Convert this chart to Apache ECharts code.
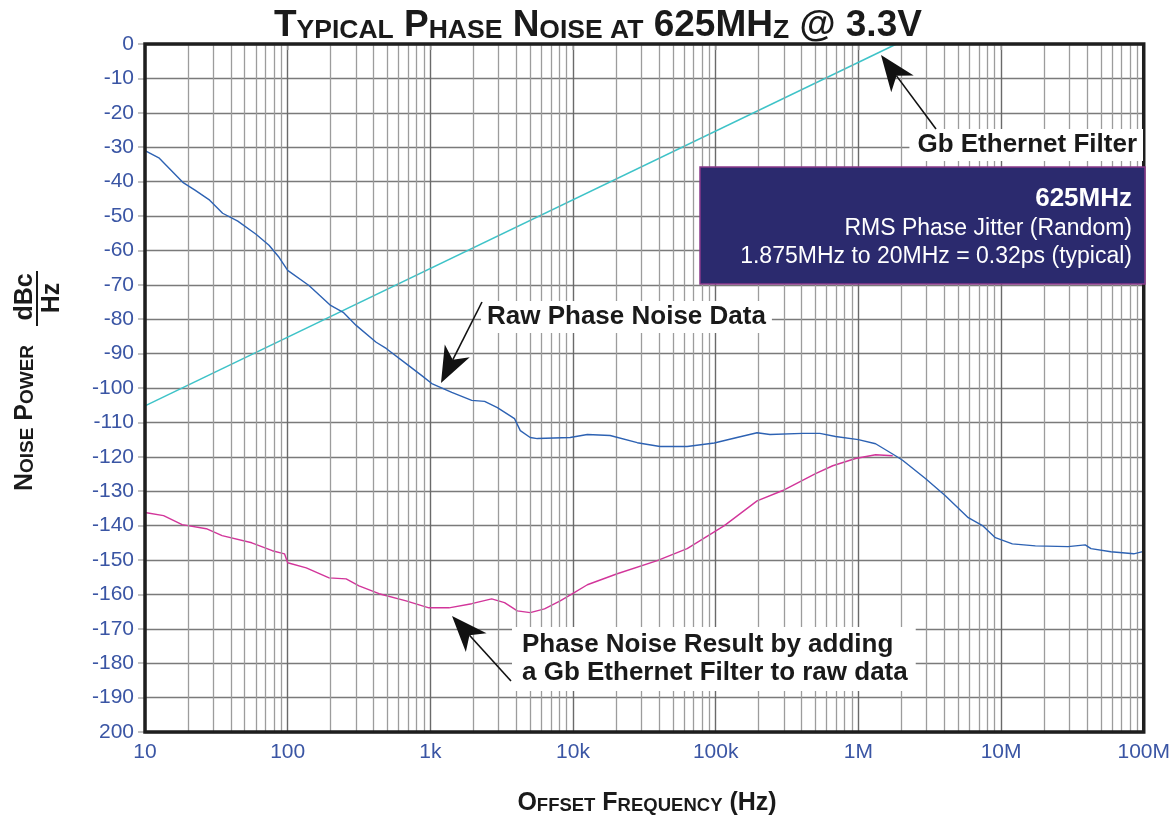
<!DOCTYPE html>
<html><head><meta charset="utf-8">
<script src="https://cdn.jsdelivr.net/npm/echarts@6/dist/echarts.min.js"></script>
<style>html,body{margin:0;padding:0;background:#fff;overflow:hidden}#c{width:1173px;height:821px}</style>
</head><body><div id="c"></div>
<script>
// ---- data ----
const rawFreq = [10, 12.6, 18.4, 22.4, 28.4, 35, 44.7, 60, 74, 87, 100, 141, 200, 245, 302, 417, 490, 676, 871, 1023, 1413, 1950, 2400, 2950, 3890, 4270, 5010, 5620, 9550, 12600, 18200, 28200, 40700, 63100, 97700, 141000, 195000, 240000, 407000, 537000, 692000, 1000000, 1320000, 1820000, 2040000, 2950000, 4070000, 5890000, 7410000, 9120000, 12000000, 17400000, 29500000, 38900000, 42700000, 58900000, 85100000, 100000000];
const rawDb = [-31, -33.2, -40.2, -42.5, -45.4, -49.2, -51.5, -55.3, -58.5, -62, -65.8, -70.2, -76, -78, -81.8, -86.7, -88.5, -92.9, -96.4, -98.7, -101.3, -103.6, -103.9, -105.7, -108.9, -112.4, -114.4, -114.7, -114.4, -113.5, -113.8, -115.9, -117, -117, -116, -114.4, -113, -113.5, -113.2, -113.2, -114.1, -115, -116.2, -119.7, -121, -126.3, -131.3, -137.7, -140, -143.5, -145.3, -145.9, -146.1, -145.6, -146.7, -147.6, -148.2, -147.5];

const resultFreq = [10, 13.5, 18.2, 26.9, 34.7, 56, 78, 95, 100, 135, 195, 257, 316, 437, 676, 977, 1349, 1950, 2690, 3310, 4070, 5010, 6310, 8130, 10200, 12600, 20400, 38900, 63100, 115000, 195000, 295000, 501000, 661000, 955000, 1320000, 1740000];
const resultDb = [-136.2, -137.1, -139.7, -140.9, -142.9, -145, -147.3, -148.2, -150.8, -152.3, -155.2, -155.5, -157.5, -159.8, -161.9, -163.9, -163.9, -162.7, -161.3, -162.4, -164.8, -165.3, -164.2, -161.9, -159.5, -157.2, -154, -150.2, -146.7, -140, -132.8, -129.8, -124.9, -122.6, -120.5, -119.4, -119.7];

const filterFreq = [10, 1850000];
const filterDb = [-105.2, 0];

const yTicks = [0, -10, -20, -30, -40, -50, -60, -70, -80, -90, -100, -110, -120, -130, -140, -150, -160, -170, -180, -190, -200];
const xTickLabels = {10: '10', 100: '100', 1000: '1k', 10000: '10k', 100000: '100k', 1000000: '1M', 10000000: '10M', 100000000: '100M'};
const minorMult = [2, 3, 4, 5, 6, 7, 8, 9];
const decades = [10, 100, 1000, 10000, 100000, 1000000, 10000000];

// ---- build ----
const zip = (a, b) => a.map((v, i) => [v, b[i]]);
const minorLines = [];
decades.forEach(d => minorMult.forEach(m => minorLines.push({xAxis: d * m})));

const FONT = '"Liberation Sans", Arial, Helvetica, sans-serif';
const LBL = '#3a55a4';

const chart = echarts.init(document.getElementById('c'), null, {renderer: 'canvas', width: 1173, height: 821});
chart.setOption({
  backgroundColor: '#fff',
  animation: false,
  title: {
    text: '{b|T}{s|YPICAL}{b| P}{s|HASE}{b| N}{s|OISE}{s| AT}{b| 625MH}{s|Z}{b| @ 3.3V}',
    left: 269, top: 2,
    textStyle: {
      rich: {
        b: {fontFamily: FONT, fontWeight: 'bold', fontSize: 37, lineHeight: 37, color: '#1a1a1a', verticalAlign: 'bottom'},
        s: {fontFamily: FONT, fontWeight: 'bold', fontSize: 26.5, lineHeight: 26.5, color: '#1a1a1a', verticalAlign: 'bottom'}
      }
    }
  },
  grid: {left: 145, right: 25, top: 44, bottom: 89, containLabel: false},
  xAxis: {
    type: 'log', logBase: 10, min: 10, max: 100000000,
    axisLine: {show: false},
    axisTick: {show: true, length: 6, lineStyle: {color: '#b0b0b0', width: 1.5}},
    axisLabel: {
      color: LBL, fontFamily: FONT, fontSize: 21, margin: 10,
      formatter: v => xTickLabels[Math.round(v)] || ''
    },
    splitLine: {show: true, lineStyle: {color: '#6a6a6a', width: 1.4}},
    minorTick: {show: false}, minorSplitLine: {show: false}
  },
  yAxis: {
    type: 'value', min: -200, max: 0, interval: 10,
    axisLine: {show: false},
    axisTick: {show: true, length: 7, lineStyle: {color: '#b0b0b0', width: 1.5}},
    axisLabel: {
      color: LBL, fontFamily: FONT, fontSize: 21, margin: 11,
      formatter: v => (v === -200 ? '200' : String(v))
    },
    splitLine: {show: true, lineStyle: {color: '#7a7a7a', width: 1.4}}
  },
  series: [
    {
      name: 'minor', type: 'line', data: [], z: 1, silent: true,
      markLine: {
        silent: true, symbol: 'none', animation: false,
        label: {show: false},
        lineStyle: {color: '#9c9c9c', width: 1.3, type: 'solid'},
        emphasis: {disabled: true},
        data: minorLines
      }
    },
    {
      name: 'Gb Ethernet Filter', type: 'line', data: zip(filterFreq, filterDb),
      showSymbol: false, symbol: 'none', z: 3,
      lineStyle: {color: '#3ec3c8', width: 1.5}
    },
    {
      name: 'Phase Noise Result', type: 'line', data: zip(resultFreq, resultDb),
      showSymbol: false, symbol: 'none', z: 4,
      lineStyle: {color: '#d2359a', width: 1.4}
    },
    {
      name: 'Raw Phase Noise Data', type: 'line', data: zip(rawFreq, rawDb),
      showSymbol: false, symbol: 'none', z: 5,
      lineStyle: {color: '#2d62b3', width: 1.4}
    }
  ]
});

// ---- annotations ----
function arrow(tx, ty, fx, fy) {
  const dx = tx - fx, dy = ty - fy, len = Math.hypot(dx, dy);
  const ux = dx / len, uy = dy / len, px = -uy, py = ux;
  const L = 36, W = 14, N = 26;
  const bx = tx - ux * L, by = ty - uy * L, nx = tx - ux * N, ny = ty - uy * N;
  return [
    {type: 'line', z: 100, shape: {x1: fx, y1: fy, x2: nx, y2: ny}, style: {stroke: '#111', lineWidth: 1.6}},
    {type: 'polygon', z: 100, shape: {points: [[tx, ty], [bx + px * W, by + py * W], [nx, ny], [bx - px * W, by - py * W]]}, style: {fill: '#111'}}
  ];
}
const tl = chart.convertToPixel({gridIndex: 0}, [10, 0]);
const br = chart.convertToPixel({gridIndex: 0}, [100000000, -200]);
const boldTxt = {fontFamily: FONT, fontWeight: 'bold', fontSize: 26, fill: '#1a1a1a'};

const g = [
  {type: 'rect', z: 90, silent: true, shape: {x: tl[0], y: tl[1], width: br[0] - tl[0], height: br[1] - tl[1]}, style: {fill: null, stroke: '#1e1e1e', lineWidth: 3.5}},
  // Info box
  {type: 'rect', z: 95, shape: {x: 700, y: 167, width: 445, height: 117}, style: {fill: '#2b2a6e', stroke: '#8a3a8a', lineWidth: 1.5}},
  {type: 'text', z: 96, x: 1132, y: 199, style: {text: '625MHz', fontFamily: FONT, fontWeight: 'bold', fontSize: 26, fill: '#fff', align: 'right', verticalAlign: 'middle'}},
  {type: 'text', z: 96, x: 1132, y: 229, style: {text: 'RMS Phase Jitter (Random)', fontFamily: FONT, fontSize: 23, fill: '#fff', align: 'right', verticalAlign: 'middle'}},
  {type: 'text', z: 96, x: 1132, y: 257, style: {text: '1.875MHz to 20MHz = 0.32ps (typical)', fontFamily: FONT, fontSize: 23, fill: '#fff', align: 'right', verticalAlign: 'middle'}},
  // labels with white background
  {type: 'text', z: 95, x: 1143, y: 145, style: Object.assign({text: 'Gb Ethernet Filter', align: 'right', verticalAlign: 'middle', backgroundColor: '#fff', padding: [3, 6, 3, 8]}, boldTxt)},
  {type: 'text', z: 95, x: 481, y: 317, style: Object.assign({text: 'Raw Phase Noise Data', align: 'left', verticalAlign: 'middle', backgroundColor: '#fff', padding: [3, 6, 3, 6]}, boldTxt)},
  {type: 'text', z: 95, x: 512, y: 659, style: Object.assign({text: 'Phase Noise Result by adding\na Gb Ethernet Filter to raw data', align: 'left', verticalAlign: 'middle', lineHeight: 28, backgroundColor: '#fff', padding: [4, 8, 4, 10]}, boldTxt)},
  // axis names
  {type: 'text', z: 95, x: 647, y: 803, style: {
    text: '{b|O}{s|FFSET}{b| F}{s|REQUENCY}{b| (Hz)}', align: 'center', verticalAlign: 'middle',
    rich: {
      b: {fontFamily: FONT, fontWeight: 'bold', fontSize: 25, lineHeight: 25, fill: '#1a1a1a', verticalAlign: 'bottom'},
      s: {fontFamily: FONT, fontWeight: 'bold', fontSize: 18.5, lineHeight: 18.5, fill: '#1a1a1a', verticalAlign: 'bottom'}
    }}},
  {type: 'text', z: 95, x: 25, y: 418, rotation: Math.PI / 2, style: {
    text: '{b|N}{s|OISE}{b| P}{s|OWER}', align: 'center', verticalAlign: 'middle',
    rich: {
      b: {fontFamily: FONT, fontWeight: 'bold', fontSize: 25, lineHeight: 25, fill: '#1a1a1a', verticalAlign: 'bottom'},
      s: {fontFamily: FONT, fontWeight: 'bold', fontSize: 19, lineHeight: 19, fill: '#1a1a1a', verticalAlign: 'bottom'}
    }}},
  {type: 'text', z: 95, x: 25, y: 297, rotation: Math.PI / 2, style: {text: 'dBc', fontFamily: FONT, fontWeight: 'bold', fontSize: 25, fill: '#1a1a1a', align: 'center', verticalAlign: 'middle'}},
  {type: 'line', z: 95, shape: {x1: 37, y1: 271, x2: 37, y2: 326}, style: {stroke: '#1a1a1a', lineWidth: 2}},
  {type: 'text', z: 95, x: 52, y: 298, rotation: Math.PI / 2, style: {text: 'Hz', fontFamily: FONT, fontWeight: 'bold', fontSize: 25, fill: '#1a1a1a', align: 'center', verticalAlign: 'middle'}}
].concat(arrow(881, 55, 936, 129), arrow(441, 383, 482, 302), arrow(452, 616, 511, 681));

chart.setOption({graphic: g});
</script>
</body></html>
